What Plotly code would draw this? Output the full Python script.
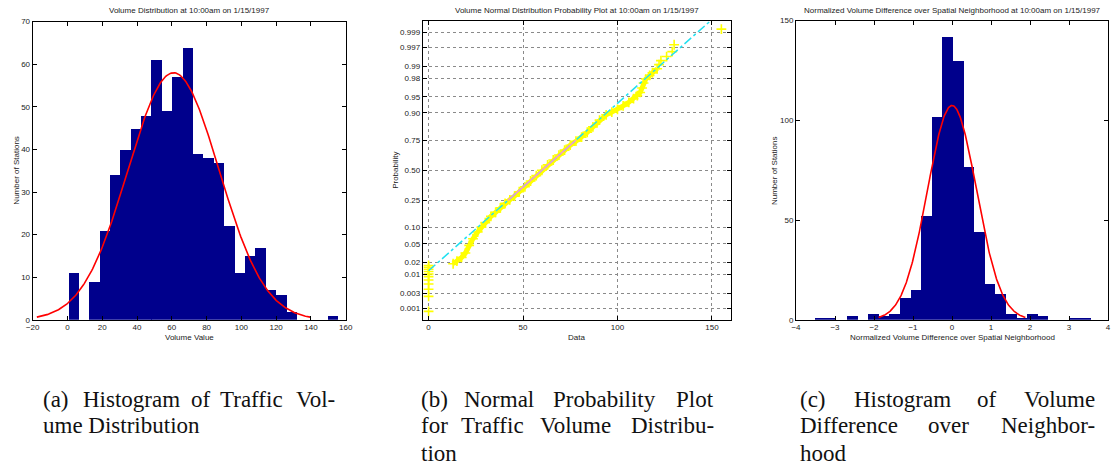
import numpy as np
import plotly.graph_objects as go
from statistics import NormalDist

W, H = 1118, 472

# ---------------- Panel (a): volume histogram ----------------
vol_bin_centers = [3.4, 9.4, 15.3, 21.3, 27.3, 33.2, 39.2, 45.2, 51.1, 57.1, 63.1, 69.1, 75.0,
                   81.0, 87.0, 92.9, 98.9, 104.9, 110.8, 116.8, 122.8, 128.8, 134.7, 140.7, 146.7, 152.6]
vol_counts = [11, 0, 9, 21, 34, 40, 45, 48, 61, 49, 57, 64, 39, 38, 37, 22, 11, 15, 17, 7, 6, 2, 0, 0, 0, 1]
vol_bin_width = 5.97
vol_fit_mean = 61.0
vol_fit_std = 26.2
vol_fit_peak = 58.0

# ---------------- Panel (b): normal probability plot ----------------
zero_values = [0, 0, 0, 0, 0, 0, 0, 0, 0, 0, 0]
zero_probs = [0.0008, 0.0024, 0.0039, 0.0055, 0.0071, 0.0087, 0.0102, 0.0118, 0.0134, 0.0150, 0.0166]
band_values = [13, 15, 17.5, 19.5, 21.5, 23.5, 26, 28, 30, 33, 35.5, 38, 40.5, 43, 45.5, 48, 51, 54,
               57, 60, 63, 66, 69, 72, 75, 78, 81, 84, 87, 90.5, 94, 97, 100, 103, 106, 108.5,
               110.5, 112, 113, 113.8, 115, 117, 118.5, 121]
band_probs = [0.0183, 0.0212, 0.0256, 0.0322, 0.0465, 0.0630, 0.0838, 0.1020, 0.1210, 0.1515,
              0.1736, 0.2005, 0.2297, 0.2546, 0.2810, 0.3156, 0.3557, 0.4052, 0.4522, 0.5000,
              0.5478, 0.5910, 0.6331, 0.6736, 0.7123, 0.7422, 0.7703, 0.8023, 0.8340, 0.8690,
              0.8925, 0.9032, 0.9131, 0.9251, 0.9357, 0.9452, 0.9525, 0.9591, 0.9671, 0.9744,
              0.9793, 0.9830, 0.9854, 0.9884]
tail_values = [122, 123, 126, 129, 130, 155]
tail_probs = [0.9909, 0.9929, 0.9945, 0.9960, 0.9975, 0.9992]
ref_line_mean = 60.0
ref_line_std = 26.7
ref_line_x = [0, 155]
ref_quartile_x = [42, 78]
prob_tick_labels = ["0.001", "0.003", "0.01", "0.02", "0.05", "0.10", "0.25", "0.50",
                    "0.75", "0.90", "0.95", "0.98", "0.99", "0.997", "0.999"]

# ---------------- Panel (c): normalized difference histogram ----------------
diff_bin_centers = [-3.375, -3.103, -2.831, -2.559, -2.287, -2.015, -1.743, -1.471, -1.199,
                    -0.927, -0.655, -0.383, -0.111, 0.161, 0.433, 0.705, 0.977, 1.249, 1.521,
                    1.793, 2.065, 2.337, 2.609, 2.881, 3.153, 3.425]
diff_counts = [1, 1, 0, 2, 0, 3, 2, 3, 11, 15, 52, 102, 142, 130, 77, 44, 18, 13, 3, 1, 3, 2, 0, 0, 1, 1]
diff_bin_width = 0.272
diff_fit_mean = 0.0
diff_fit_std = 0.627
diff_fit_peak = 107.5

titles = ["Volume Distribution at 10:00am on 1/15/1997",
          "Volume Normal Distribution Probability Plot at 10:00am on 1/15/1997",
          "Normalized Volume Difference over Spatial Neighborhood at 10:00am on 1/15/1997"]

NAVY = "#00008c"
FONT = "Liberation Sans"
SERIF = "Liberation Serif"

nd = NormalDist()
z = nd.inv_cdf


def fit_curve(mean, std, peak):
    xs = np.linspace(mean - 3 * std, mean + 3 * std, 300)
    return xs, peak * np.exp(-0.5 * ((xs - mean) / std) ** 2)


fig = go.Figure()

# (a)
fig.add_trace(go.Bar(x=vol_bin_centers, y=vol_counts, width=vol_bin_width, marker=dict(color=NAVY, line=dict(width=0)),
                     xaxis="x", yaxis="y", showlegend=False))
cx, cy = fit_curve(vol_fit_mean, vol_fit_std, vol_fit_peak)
fig.add_trace(go.Scatter(x=cx, y=cy, mode="lines", line=dict(color="#ff0000", width=1.6),
                         xaxis="x", yaxis="y", showlegend=False))

# (b)
YEL = "#ffff00"
fig.add_trace(go.Scatter(x=band_values, y=[z(p) for p in band_probs], mode="lines",
                         line=dict(color=YEL, width=5), xaxis="x2", yaxis="y2", showlegend=False))
all_vals = zero_values + band_values + tail_values
all_probs = zero_probs + band_probs + tail_probs
fig.add_trace(go.Scatter(x=all_vals, y=[z(p) for p in all_probs], mode="markers",
                         marker=dict(symbol="cross-thin", size=7, color=YEL, line=dict(color=YEL, width=1.6)),
                         xaxis="x2", yaxis="y2", showlegend=False, cliponaxis=False))
fig.add_trace(go.Scatter(x=ref_line_x, y=[(v - ref_line_mean) / ref_line_std for v in ref_line_x], mode="lines",
                         line=dict(color="#22e0f0", width=1.5, dash="dashdot"), xaxis="x2", yaxis="y2",
                         showlegend=False))
fig.add_trace(go.Scatter(x=ref_quartile_x, y=[(v - ref_line_mean) / ref_line_std for v in ref_quartile_x],
                         mode="lines", line=dict(color="#f09ad0", width=1.5), xaxis="x2", yaxis="y2",
                         showlegend=False))

# (c)
fig.add_trace(go.Bar(x=diff_bin_centers, y=diff_counts, width=diff_bin_width, marker=dict(color=NAVY, line=dict(width=0)),
                     xaxis="x3", yaxis="y3", showlegend=False))
cx, cy = fit_curve(diff_fit_mean, diff_fit_std, diff_fit_peak)
fig.add_trace(go.Scatter(x=cx, y=cy, mode="lines", line=dict(color="#ff0000", width=1.6),
                         xaxis="x3", yaxis="y3", showlegend=False))


def px_x(p):
    return p / W


def px_y(p):
    return 1 - p / H


axis_common = dict(showline=True, linecolor="black", linewidth=1, mirror="ticks", ticks="inside",
                   ticklen=4, tickcolor="black", tickfont=dict(family=FONT, size=8, color="#222"),
                   zeroline=False, showgrid=False)

panels = {
    "a": (26, 343, 18, 322),
    "b": (421, 733, 17, 322),
    "c": (799, 1115, 17, 322),
}

layout = dict(
    width=W, height=H, margin=dict(l=0, r=0, t=0, b=0), plot_bgcolor="white", paper_bgcolor="white",
    bargap=0,
    xaxis=dict(axis_common, domain=[px_x(26), px_x(343)], range=[-20, 160], tickvals=list(range(-20, 161, 20)),
               anchor="y"),
    yaxis=dict(axis_common, domain=[px_y(322), px_y(18)], range=[0, 70], tickvals=list(range(0, 71, 10)),
               anchor="x"),
    xaxis2=dict(axis_common, domain=[px_x(421), px_x(733)], range=[-3.1, 160], tickvals=[0, 50, 100, 150],
                anchor="y2", showgrid=True, gridcolor="#8a8a8a", griddash="dot", gridwidth=1),
    yaxis2=dict(axis_common, domain=[px_y(322), px_y(17)], range=[-3.345, 3.345],
                tickvals=[z(float(t)) for t in prob_tick_labels], ticktext=prob_tick_labels,
                anchor="x2", showgrid=True, gridcolor="#8a8a8a", griddash="dot", gridwidth=1),
    xaxis3=dict(axis_common, domain=[px_x(799), px_x(1115)], range=[-4, 4], tickvals=list(range(-4, 5)),
                anchor="y3"),
    yaxis3=dict(axis_common, domain=[px_y(322), px_y(17)], range=[0, 150], tickvals=[0, 50, 100, 150],
                anchor="x3"),
)
fig.update_layout(**layout)

ann = []
for (key, t) in zip(["a", "b", "c"], titles):
    l, r, tp, bt = panels[key]
    ann.append(dict(x=px_x((l + r) / 2), y=px_y(7), xref="paper", yref="paper", text=t, showarrow=False,
                    xanchor="center", yanchor="middle", font=dict(family=FONT, size=8, color="#222")))
xlabels = [("a", "Volume Value"), ("b", "Data"), ("c", "Normalized Volume Difference over Spatial Neighborhood")]
for key, t in xlabels:
    l, r, tp, bt = panels[key]
    ann.append(dict(x=px_x((l + r) / 2), y=px_y(340), xref="paper", yref="paper", text=t, showarrow=False,
                    xanchor="center", yanchor="middle", font=dict(family=FONT, size=8, color="#222")))
ylabels = [(10, "Number of Stations"), (394, "Probability"), (778, "Number of Stations")]
for xp, t in ylabels:
    ann.append(dict(x=px_x(xp), y=px_y(170), xref="paper", yref="paper", text=t, showarrow=False, textangle=-90,
                    xanchor="center", yanchor="middle", font=dict(family=FONT, size=8, color="#222")))

# captions, justified word by word like the LaTeX original
CAP = 23
L1, L2, L3 = 403, 430, 458
cap_words = [
    (35, L1, "left", "(a)"), (125.7, L1, "center", "Histogram"), (196.2, L1, "center", "of"),
    (247.8, L1, "center", "Traffic"), (333, L1, "right", "Vol-"),
    (35, L2, "left", "ume Distribution"),
    (418, L1, "left", "(b)"), (498.6, L1, "center", "Normal"), (605.3, L1, "center", "Probability"),
    (717, L1, "right", "Plot"),
    (418, L2, "left", "for"), (491.2, L2, "center", "Traffic"), (575.4, L2, "center", "Volume"),
    (717, L2, "right", "Distribu-"),
    (418, L3, "left", "tion"),
    (802, L1, "left", "(c)"), (906.6, L1, "center", "Histogram"), (992.3, L1, "center", "of"),
    (1103, L1, "right", "Volume"),
    (802, L2, "left", "Difference"), (953, L2, "center", "over"), (1103, L2, "right", "Neighbor-"),
    (802, L3, "left", "hood"),
]
for xp, yp, anc, t in cap_words:
    ann.append(dict(x=px_x(xp), y=px_y(yp), xref="paper", yref="paper", text=t, showarrow=False,
                    xanchor=anc, yanchor="middle", borderpad=0,
                    font=dict(family=SERIF, size=CAP, color="#111")))
fig.update_layout(annotations=ann)

fig.write_html("out.html", config={"displayModeBar": False},
               post_script="document.body.style.margin='0';document.body.style.overflow='hidden';")
